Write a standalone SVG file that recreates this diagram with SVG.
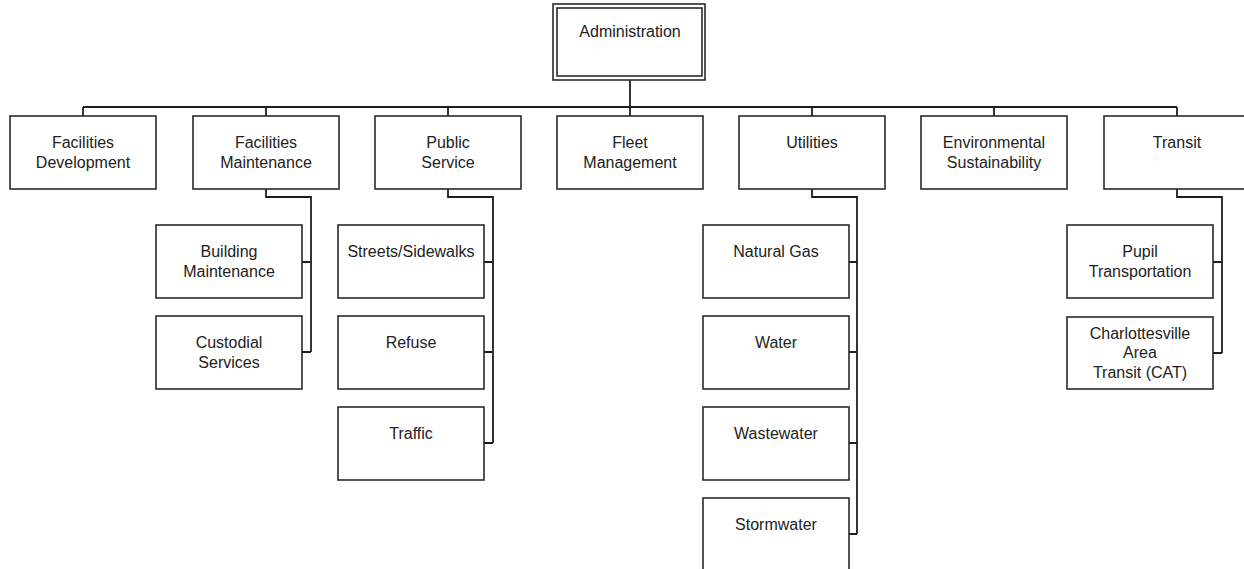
<svg xmlns="http://www.w3.org/2000/svg" width="1244" height="569" viewBox="0 0 1244 569">
  <style>
    .box { fill: #ffffff; stroke: #2a2a2a; stroke-width: 1.6; }
    .wire { fill: none; stroke: #1e1e1e; stroke-width: 1.8; }
    text { font-family: "Liberation Sans", Arial, sans-serif; font-size: 16px; fill: #222222; text-anchor: middle; }
  </style>
  <rect x="0" y="0" width="1244" height="569" fill="#ffffff"/>

  <!-- connectors -->
  <g id="connectors" class="wire">
    <path d="M630 80 V107"/>
    <path d="M83 107 H1177"/>
    <path d="M83 107 V116 M266 107 V116 M448 107 V116 M630 107 V116 M812 107 V116 M994 107 V116 M1177 107 V116"/>
    <!-- Facilities Maintenance -->
    <path d="M266 189 V197 H311 V352 M302 262 H311 M302 352 H311"/>
    <!-- Public Service -->
    <path d="M448 189 V197 H493 V443 M484 262 H493 M484 352 H493 M484 443 H493"/>
    <!-- Utilities -->
    <path d="M812 189 V197 H857 V534 M849 262 H857 M849 352 H857 M849 443 H857 M849 534 H857"/>
    <!-- Transit -->
    <path d="M1177 189 V197 H1222 V353 M1213 262 H1222 M1213 353 H1222"/>
  </g>

  <!-- top node -->
  <g id="administration">
    <rect class="box" x="553" y="4" width="152" height="76"/>
    <rect class="box" x="557" y="8" width="145" height="68"/>
    <text x="630" y="37">Administration</text>
  </g>

  <!-- division row -->
  <g id="facilities-development">
    <rect class="box" x="10" y="116" width="146" height="73"/>
    <text x="83" y="148">Facilities</text>
    <text x="83" y="168">Development</text>
  </g>
  <g id="facilities-maintenance">
    <rect class="box" x="193" y="116" width="146" height="73"/>
    <text x="266" y="148">Facilities</text>
    <text x="266" y="168">Maintenance</text>
  </g>
  <g id="public-service">
    <rect class="box" x="375" y="116" width="146" height="73"/>
    <text x="448" y="148">Public</text>
    <text x="448" y="168">Service</text>
  </g>
  <g id="fleet-management">
    <rect class="box" x="557" y="116" width="146" height="73"/>
    <text x="630" y="148">Fleet</text>
    <text x="630" y="168">Management</text>
  </g>
  <g id="utilities">
    <rect class="box" x="739" y="116" width="146" height="73"/>
    <text x="812" y="148">Utilities</text>
  </g>
  <g id="environmental-sustainability">
    <rect class="box" x="921" y="116" width="146" height="73"/>
    <text x="994" y="148">Environmental</text>
    <text x="994" y="168">Sustainability</text>
  </g>
  <g id="transit">
    <rect class="box" x="1104" y="116" width="146" height="73"/>
    <text x="1177" y="148">Transit</text>
  </g>

  <!-- Facilities Maintenance units -->
  <g id="building-maintenance">
    <rect class="box" x="156" y="225" width="146" height="73"/>
    <text x="229" y="257">Building</text>
    <text x="229" y="277">Maintenance</text>
  </g>
  <g id="custodial-services">
    <rect class="box" x="156" y="316" width="146" height="73"/>
    <text x="229" y="348">Custodial</text>
    <text x="229" y="368">Services</text>
  </g>

  <!-- Public Service units -->
  <g id="streets-sidewalks">
    <rect class="box" x="338" y="225" width="146" height="73"/>
    <text x="411" y="257">Streets/Sidewalks</text>
  </g>
  <g id="refuse">
    <rect class="box" x="338" y="316" width="146" height="73"/>
    <text x="411" y="348">Refuse</text>
  </g>
  <g id="traffic">
    <rect class="box" x="338" y="407" width="146" height="73"/>
    <text x="411" y="439">Traffic</text>
  </g>

  <!-- Utilities units -->
  <g id="natural-gas">
    <rect class="box" x="703" y="225" width="146" height="73"/>
    <text x="776" y="257">Natural Gas</text>
  </g>
  <g id="water">
    <rect class="box" x="703" y="316" width="146" height="73"/>
    <text x="776" y="348">Water</text>
  </g>
  <g id="wastewater">
    <rect class="box" x="703" y="407" width="146" height="73"/>
    <text x="776" y="439">Wastewater</text>
  </g>
  <g id="stormwater">
    <rect class="box" x="703" y="498" width="146" height="73"/>
    <text x="776" y="530">Stormwater</text>
  </g>

  <!-- Transit units -->
  <g id="pupil-transportation">
    <rect class="box" x="1067" y="225" width="146" height="73"/>
    <text x="1140" y="257">Pupil</text>
    <text x="1140" y="277">Transportation</text>
  </g>
  <g id="charlottesville-area-transit">
    <rect class="box" x="1067" y="317" width="146" height="72"/>
    <text x="1140" y="339">Charlottesville</text>
    <text x="1140" y="358">Area</text>
    <text x="1140" y="378">Transit (CAT)</text>
  </g>
</svg>
